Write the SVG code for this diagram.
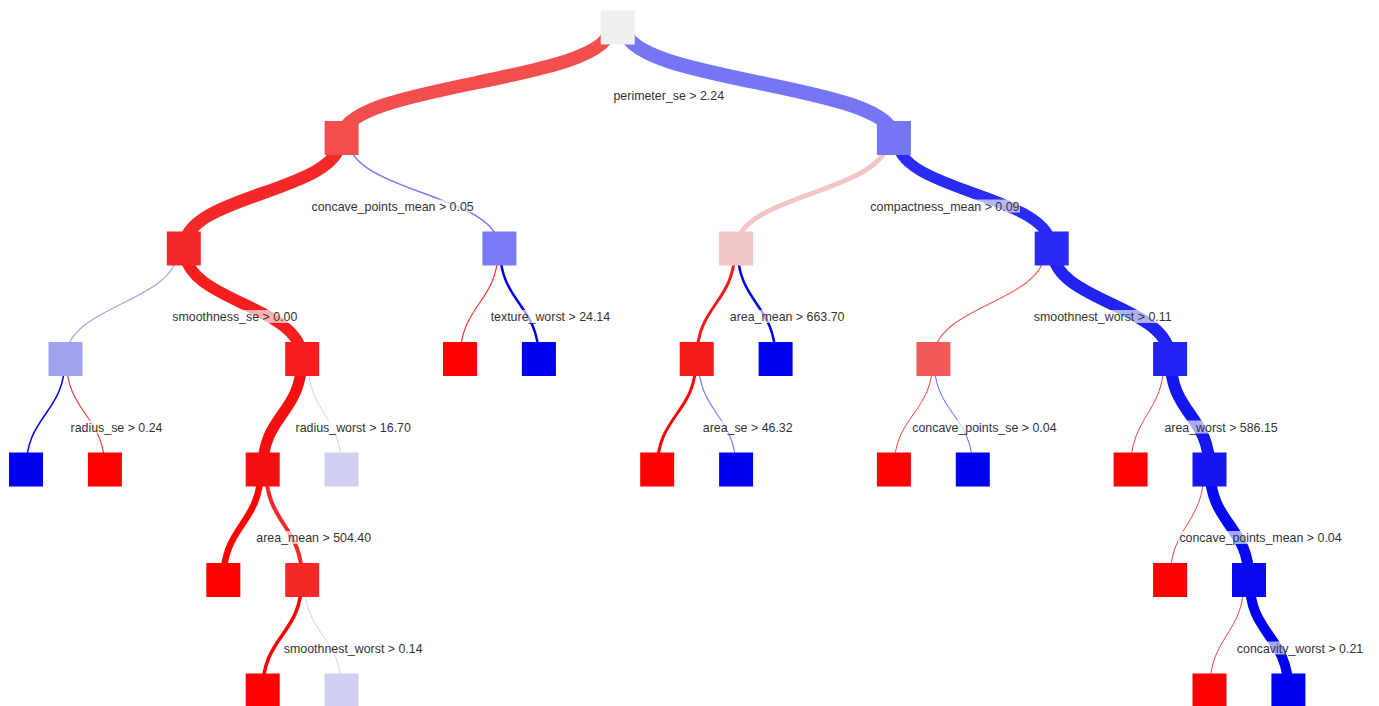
<svg xmlns="http://www.w3.org/2000/svg" width="1379" height="706" viewBox="0 0 1379 706">
<style>
.e{fill:none;stroke-linecap:butt}
.lb{fill:#fff;fill-opacity:0.65}
.t{font-family:"Liberation Sans",Arial,sans-serif;font-size:12.4px;fill:#333;text-anchor:middle}
</style>
<rect width="1379" height="706" fill="#fff"/>
<g id="connectors">
<path class="e" d="M610.5,27.5 C610.5,82.75 341.6,82.75 341.6,138" stroke="#f24e4e" stroke-width="13.5"/>
<path class="e" d="M624.5,27.5 C624.5,82.75 893.9,82.75 893.9,138" stroke="#7676f4" stroke-width="14.5"/>
<path class="e" d="M340.9,138 C340.9,193.25 183.8,193.25 183.8,248.5" stroke="#f42828" stroke-width="12.5"/>
<path class="e" d="M347.9,138 C347.9,193.25 499.4,193.25 499.4,248.5" stroke="#7a7af6" stroke-width="1.5"/>
<path class="e" d="M888.4,138 C888.4,193.25 736.1,193.25 736.1,248.5" stroke="#f2c6c6" stroke-width="5"/>
<path class="e" d="M896.4,138 C896.4,193.25 1051.7,193.25 1051.7,248.5" stroke="#2b2bf5" stroke-width="11"/>
<path class="e" d="M178.1,248.5 C178.1,303.75 65.5,303.75 65.5,359" stroke="#a2a2ee" stroke-width="1.2"/>
<path class="e" d="M184.4,248.5 C184.4,303.75 302.2,303.75 302.2,359" stroke="#f51d1d" stroke-width="11.5"/>
<path class="e" d="M498.2,248.5 C498.2,303.75 460,303.75 460,359" stroke="#ff3030" stroke-width="1.2"/>
<path class="e" d="M500,248.5 C500,303.75 538.9,303.75 538.9,359" stroke="#0000f0" stroke-width="2.5"/>
<path class="e" d="M734.9,248.5 C734.9,303.75 696.7,303.75 696.7,359" stroke="#f51a1a" stroke-width="3"/>
<path class="e" d="M737.6,248.5 C737.6,303.75 775.6,303.75 775.6,359" stroke="#0000f2" stroke-width="2.5"/>
<path class="e" d="M1045.7,248.5 C1045.7,303.75 933.4,303.75 933.4,359" stroke="#f25a5a" stroke-width="1.2"/>
<path class="e" d="M1052.3,248.5 C1052.3,303.75 1170.1,303.75 1170.1,359" stroke="#2222f2" stroke-width="12"/>
<path class="e" d="M64.9,359 C64.9,414.25 26,414.25 26,469.5" stroke="#0000f0" stroke-width="1.5"/>
<path class="e" d="M66.3,359 C66.3,414.25 104.9,414.25 104.9,469.5" stroke="#f04040" stroke-width="1.2"/>
<path class="e" d="M301.7,359 C301.7,414.25 262.7,414.25 262.7,469.5" stroke="#f51010" stroke-width="11"/>
<path class="e" d="M307.7,359 C307.7,414.25 341.6,414.25 341.6,469.5" stroke="#d0d0f0" stroke-width="1"/>
<path class="e" d="M696.1,359 C696.1,414.25 657.2,414.25 657.2,469.5" stroke="#ff0000" stroke-width="3"/>
<path class="e" d="M698.2,359 C698.2,414.25 736.1,414.25 736.1,469.5" stroke="#8080f0" stroke-width="1.2"/>
<path class="e" d="M932.9,359 C932.9,414.25 893.9,414.25 893.9,469.5" stroke="#f04040" stroke-width="1"/>
<path class="e" d="M933.9,359 C933.9,414.25 972.8,414.25 972.8,469.5" stroke="#6060f0" stroke-width="1"/>
<path class="e" d="M1164.1,359 C1164.1,414.25 1130.6,414.25 1130.6,469.5" stroke="#f04040" stroke-width="1"/>
<path class="e" d="M1170.6,359 C1170.6,414.25 1209.5,414.25 1209.5,469.5" stroke="#1515f2" stroke-width="12"/>
<path class="e" d="M260.7,469.5 C260.7,524.75 223.3,524.75 223.3,580" stroke="#ff0000" stroke-width="6.5"/>
<path class="e" d="M266,469.5 C266,524.75 302.2,524.75 302.2,580" stroke="#f52828" stroke-width="4"/>
<path class="e" d="M1204,469.5 C1204,524.75 1170.1,524.75 1170.1,580" stroke="#f04040" stroke-width="1"/>
<path class="e" d="M1210,469.5 C1210,524.75 1249,524.75 1249,580" stroke="#0707f0" stroke-width="11"/>
<path class="e" d="M301.7,580 C301.7,635.25 262.7,635.25 262.7,690.5" stroke="#ff0000" stroke-width="3.5"/>
<path class="e" d="M304,580 C304,635.25 341.6,635.25 341.6,690.5" stroke="#d0d0f0" stroke-width="1"/>
<path class="e" d="M1244,580 C1244,635.25 1209.5,635.25 1209.5,690.5" stroke="#f04040" stroke-width="1"/>
<path class="e" d="M1249.5,580 C1249.5,635.25 1288.4,635.25 1288.4,690.5" stroke="#0000f0" stroke-width="10"/>
</g>
<g id="n0"><rect x="600.75" y="10.5" width="34" height="34" fill="#efefef"/><rect class="lb" x="612" y="89" width="113" height="13"/><text class="t" x="668.75" y="100">perimeter_se &gt; 2.24</text></g>
<g id="n1"><rect x="324.6" y="121" width="34" height="34" fill="#f24e4e"/><rect class="lb" x="310" y="199.5" width="164" height="13"/><text class="t" x="392.6" y="210.5">concave_points_mean &gt; 0.05</text></g>
<g id="n2"><rect x="876.9" y="121" width="34" height="34" fill="#7676f4"/><rect class="lb" x="869" y="199.5" width="151" height="13"/><text class="t" x="944.9" y="210.5">compactness_mean &gt; 0.09</text></g>
<g id="n3"><rect x="166.8" y="231.5" width="34" height="34" fill="#f42828"/><rect class="lb" x="172" y="310" width="125" height="13"/><text class="t" x="234.8" y="321">smoothness_se &gt; 0.00</text></g>
<g id="n4"><rect x="482.4" y="231.5" width="34" height="34" fill="#7a7af6"/><rect class="lb" x="489" y="310" width="123" height="13"/><text class="t" x="550.4" y="321">texture_worst &gt; 24.14</text></g>
<g id="n5"><rect x="719.1" y="231.5" width="34" height="34" fill="#f2c6c6"/><rect class="lb" x="730" y="310" width="114" height="13"/><text class="t" x="787.1" y="321">area_mean &gt; 663.70</text></g>
<g id="n6"><rect x="1034.7" y="231.5" width="34" height="34" fill="#2b2bf5"/><rect class="lb" x="1031" y="310" width="143" height="13"/><text class="t" x="1102.7" y="321">smoothnest_worst &gt; 0.11</text></g>
<g id="n7"><rect x="48.5" y="342" width="34" height="34" fill="#a2a2ee"/><rect class="lb" x="71" y="420.5" width="91" height="13"/><text class="t" x="116.5" y="431.5">radius_se &gt; 0.24</text></g>
<g id="n8"><rect x="285.2" y="342" width="34" height="34" fill="#f51d1d"/><rect class="lb" x="295" y="420.5" width="117" height="13"/><text class="t" x="353.2" y="431.5">radius_worst &gt; 16.70</text></g>
<g id="n9"><rect x="443" y="342" width="34" height="34" fill="#ff0000"/></g>
<g id="n10"><rect x="521.9" y="342" width="34" height="34" fill="#0000f0"/></g>
<g id="n11"><rect x="679.7" y="342" width="34" height="34" fill="#f51a1a"/><rect class="lb" x="703" y="420.5" width="88" height="13"/><text class="t" x="747.7" y="431.5">area_se &gt; 46.32</text></g>
<g id="n12"><rect x="758.6" y="342" width="34" height="34" fill="#0000f2"/></g>
<g id="n13"><rect x="916.4" y="342" width="34" height="34" fill="#f25a5a"/><rect class="lb" x="912" y="420.5" width="145" height="13"/><text class="t" x="984.4" y="431.5">concave_points_se &gt; 0.04</text></g>
<g id="n14"><rect x="1153.1" y="342" width="34" height="34" fill="#2222f2"/><rect class="lb" x="1163" y="420.5" width="115" height="13"/><text class="t" x="1221.1" y="431.5">area_worst &gt; 586.15</text></g>
<g id="n15"><rect x="9" y="452.5" width="34" height="34" fill="#0000f0"/></g>
<g id="n16"><rect x="87.9" y="452.5" width="34" height="34" fill="#ff0000"/></g>
<g id="n17"><rect x="245.7" y="452.5" width="34" height="34" fill="#f51010"/><rect class="lb" x="257" y="531" width="114" height="13"/><text class="t" x="313.7" y="542">area_mean &gt; 504.40</text></g>
<g id="n18"><rect x="324.6" y="452.5" width="34" height="34" fill="#d0d0f0"/></g>
<g id="n19"><rect x="640.2" y="452.5" width="34" height="34" fill="#ff0000"/></g>
<g id="n20"><rect x="719.1" y="452.5" width="34" height="34" fill="#0000f0"/></g>
<g id="n21"><rect x="876.9" y="452.5" width="34" height="34" fill="#ff0000"/></g>
<g id="n22"><rect x="955.8" y="452.5" width="34" height="34" fill="#0000f2"/></g>
<g id="n23"><rect x="1113.6" y="452.5" width="34" height="34" fill="#ff0000"/></g>
<g id="n24"><rect x="1192.5" y="452.5" width="34" height="34" fill="#1515f2"/><rect class="lb" x="1178" y="531" width="165" height="13"/><text class="t" x="1260.5" y="542">concave_points_mean &gt; 0.04</text></g>
<g id="n25"><rect x="206.3" y="563" width="34" height="34" fill="#ff0000"/></g>
<g id="n26"><rect x="285.2" y="563" width="34" height="34" fill="#f52828"/><rect class="lb" x="281" y="641.5" width="144" height="13"/><text class="t" x="353.2" y="652.5">smoothnest_worst &gt; 0.14</text></g>
<g id="n27"><rect x="1153.1" y="563" width="34" height="34" fill="#ff0000"/></g>
<g id="n28"><rect x="1232" y="563" width="34" height="34" fill="#0707f0"/><rect class="lb" x="1235" y="641.5" width="129" height="13"/><text class="t" x="1300" y="652.5">concavity_worst &gt; 0.21</text></g>
<g id="n29"><rect x="245.7" y="673.5" width="34" height="34" fill="#ff0000"/></g>
<g id="n30"><rect x="324.6" y="673.5" width="34" height="34" fill="#d0d0f0"/></g>
<g id="n31"><rect x="1192.5" y="673.5" width="34" height="34" fill="#ff0000"/></g>
<g id="n32"><rect x="1271.4" y="673.5" width="34" height="34" fill="#0000f0"/></g>
</svg>
